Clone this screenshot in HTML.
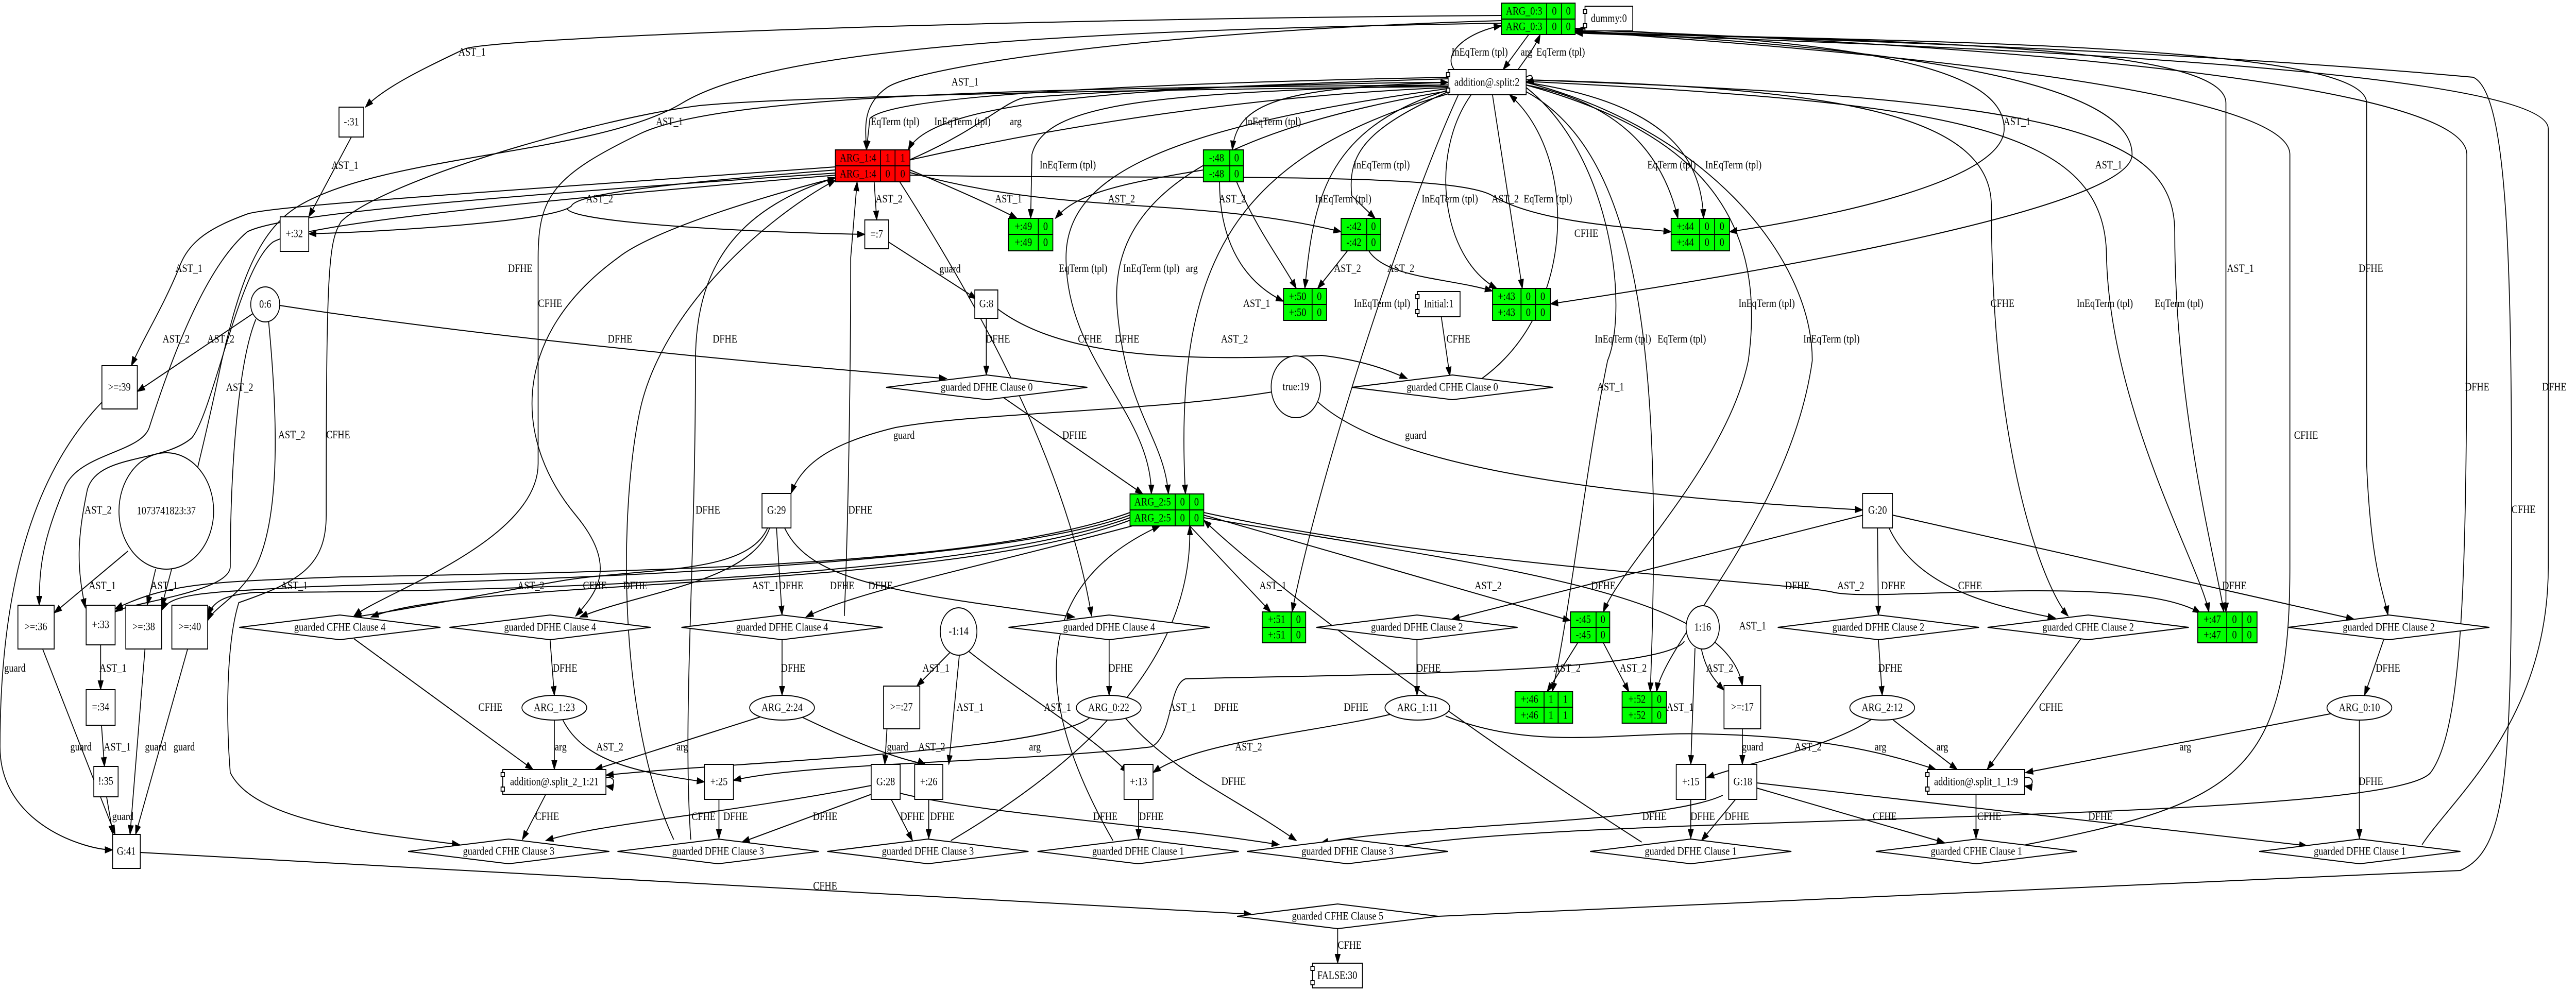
<!DOCTYPE html>
<html><head><meta charset="utf-8">
<style>
html,body{margin:0;padding:0;background:#fff;overflow:hidden;width:100%;height:100%;}
svg{display:block;width:100vw;height:100vh;}
text{font-family:"Liberation Serif",serif;font-size:22px;fill:#000;}
.n{fill:#fff;stroke:#000;stroke-width:2;}
.e{fill:none;stroke:#000;stroke-width:2;}
.g{fill:#00ff00;stroke:#000;stroke-width:2;}
.r{fill:#ff0000;stroke:#000;stroke-width:2;}
</style></head><body>
<svg viewBox="0 0 6041 1924" preserveAspectRatio="none" xmlns="http://www.w3.org/2000/svg">
<defs><marker id="a" markerWidth="20" markerHeight="14" refX="18" refY="7" orient="auto" markerUnits="userSpaceOnUse"><path d="M0,0 L20,7 L0,14 z" fill="#000"/></marker></defs>

<g class="e" marker-end="url(#a)">
<path d="M3521,30 C2200,38 1150,75 1090,95 C1000,130 900,170 857,208"/>
<path d="M824,266 L724,421"/>
<path d="M3521,40 C2700,60 2150,130 2080,170 C2020,205 2030,250 2032,291"/>
<path d="M3521,45 C2400,60 1800,100 1600,200 C1400,300 900,300 700,400 C600,450 560,560 520,700 C470,900 420,1050 379,1178"/>
<path d="M1959,324 C1200,370 620,400 578,416 C500,440 443,465 420,520 C380,600 340,650 308,710"/>
<path d="M1959,330 C1500,360 1350,380 1340,400 C1300,430 900,450 724,454"/>
<path d="M1330,405 C1340,430 1700,450 2028,455"/>
<path d="M1959,336 C1000,390 650,420 580,450 C480,520 400,700 350,830 C330,880 180,880 150,950 C100,1050 92,1100 92,1175"/>
<path d="M1959,340 C1100,400 700,440 640,470 C560,520 500,800 450,850 C380,900 230,880 205,950 C180,1050 180,1100 200,1180"/>
<path d="M3396,150 C2800,160 2100,180 2040,230 L2032,291"/>
<path d="M3396,153 C2700,170 2190,190 2130,291"/>
<path d="M2134,310 C2300,250 2350,200 2400,190 C2700,170 3200,160 3396,160"/>
<path d="M3396,165 C2700,180 2450,200 2420,300 L2417,424"/>
<path d="M3396,160 C3000,170 2900,200 2890,291"/>
<path d="M2822,330 C2600,360 2520,380 2475,424"/>
<path d="M2134,330 C2250,370 2330,400 2385,424"/>
<path d="M2050,353 L2056,427"/>
<path d="M2134,335 C2500,420 2800,380 3145,450"/>
<path d="M2134,340 C2700,350 3400,330 3500,380 C3600,430 3800,440 3919,450"/>
<path d="M2860,353 C2860,450 2900,540 3010,585"/>
<path d="M2900,353 C2950,450 3000,500 3040,560"/>
<path d="M3160,487 L3090,560"/>
<path d="M3210,487 C3250,540 3400,540 3500,565"/>
<path d="M3396,178 C3200,250 3160,300 3170,380 L3225,424"/>
<path d="M3450,184 C3350,300 3380,500 3510,560"/>
<path d="M3500,184 L3570,560"/>
<path d="M3579,165 C3800,200 3900,300 3935,424"/>
<path d="M3579,160 C3900,200 3990,300 3995,424"/>
<path d="M3396,175 C3100,250 3080,400 3060,560"/>
<path d="M3410,135 C3380,100 3450,60 3521,50"/>
<path d="M3585,67 L3525,135"/>
<path d="M3560,135 C3590,100 3600,90 3612,67"/>
<path d="M3694,55 C4300,80 4700,120 4700,250 C4700,350 4300,420 4056,450"/>
<path d="M3694,60 C4400,90 5000,150 5000,300 C5000,400 4200,520 3636,590"/>
<path d="M3694,62 C4500,80 5220,90 5220,200 L5220,1188"/>
<path d="M3694,64 C4600,80 5550,90 5550,200 L5550,900 C5560,1100 5590,1150 5600,1194"/>
<path d="M3420,184 C3300,400 3100,900 3030,1188"/>
<path d="M3579,170 C3780,300 3820,600 3770,700 C3720,900 3680,1200 3640,1343"/>
<path d="M3579,178 C3850,300 3900,700 3870,1343"/>
<path d="M3579,165 C3950,250 4150,400 4100,700 C4050,900 3800,1100 3760,1188"/>
<path d="M3579,160 C4000,250 4250,500 4250,700 C4200,1000 3900,1250 3885,1343"/>
<path d="M3579,158 C4600,200 4940,250 4940,500 C4950,800 5160,1100 5180,1188"/>
<path d="M3579,155 C4800,190 5100,250 5100,450 C5100,800 5200,1100 5215,1188"/>
<path d="M3579,155 C4300,170 4670,220 4670,400 C4670,900 4800,1150 4850,1196"/>
<path d="M3396,168 C2000,180 1700,200 1640,205 C1400,230 900,350 800,430 C770,470 765,520 765,1000 C765,1100 700,1130 560,1170 C530,1250 530,1400 540,1500 C600,1600 900,1620 1078,1640"/>
<path d="M3396,165 C2500,170 1700,180 1500,260 C1300,340 1262,380 1262,500 L1262,900 C1262,1050 900,1150 830,1196"/>
<path d="M3396,170 C2500,200 1600,400 1450,500 C1200,650 1200,850 1350,1000 C1450,1100 1400,1150 1350,1196"/>
<path d="M3396,172 C2700,250 2500,350 2500,500 C2500,700 2700,800 2700,959"/>
<path d="M3400,176 C2800,260 2600,400 2620,600 C2640,800 2730,850 2740,959"/>
<path d="M3405,180 C2900,300 2750,500 2780,959"/>
<path d="M2110,353 C2300,600 2500,900 2560,1196"/>
<path d="M2084,470 L2290,580"/>
<path d="M2313,618 L2313,728"/>
<path d="M656,593 C1100,650 1700,700 2220,735"/>
<path d="M600,605 L322,760"/>
<path d="M630,625 C650,800 660,1000 600,1100 C560,1160 500,1180 487,1205"/>
<path d="M600,620 C560,700 540,900 540,1100 C540,1150 300,1170 270,1188"/>
<path d="M2350,770 L2680,959"/>
<path d="M2340,600 C2500,700 2800,700 3100,690 C3200,700 3260,720 3300,735"/>
<path d="M3380,615 L3400,730"/>
<path d="M3475,735 C3700,600 3700,300 3540,184"/>
<path d="M2990,760 C2700,800 2300,800 2100,830 C1950,860 1880,900 1855,958"/>
<path d="M3090,780 C3250,900 3700,960 4368,990"/>
<path d="M1620,1630 C1600,1400 1631,1100 1631,700 C1631,500 1750,400 1959,345"/>
<path d="M1980,1196 C1990,1000 1995,700 1995,500 L2010,353"/>
<path d="M1580,1630 C1450,1400 1450,1000 1500,800 C1550,600 1800,420 1959,350"/>
<path d="M300,1070 L127,1190"/>
<path d="M365,1105 L345,1175"/>
<path d="M240,780 C100,900 0,1100 0,1450 C0,1600 200,1650 264,1650"/>
<path d="M100,1260 L270,1620"/>
<path d="M236,1252 L236,1339"/>
<path d="M238,1408 L245,1488"/>
<path d="M250,1547 L265,1620"/>
<path d="M340,1260 L305,1620"/>
<path d="M440,1260 L318,1620"/>
<path d="M329,1655 L2935,1775"/>
<path d="M3137,1803 L3137,1870"/>
<path d="M1800,1025 C1750,1120 1500,1100 1300,1130 C1100,1160 900,1190 830,1198"/>
<path d="M1805,1025 C1760,1130 1500,1150 1360,1198"/>
<path d="M1821,1025 L1834,1194"/>
<path d="M1840,1025 C1900,1130 2100,1150 2520,1198"/>
<path d="M1290,1242 L1300,1350"/>
<path d="M1834,1242 L1834,1350"/>
<path d="M2601,1242 L2601,1350"/>
<path d="M830,1240 L1250,1494"/>
<path d="M1300,1398 L1300,1494"/>
<path d="M1320,1398 C1370,1480 1500,1500 1652,1518"/>
<path d="M1790,1390 L1395,1494"/>
<path d="M1870,1388 C2100,1480 2160,1480 2170,1484"/>
<path d="M2560,1390 C2480,1460 1700,1480 1421,1505"/>
<path d="M2230,1265 L2150,1332"/>
<path d="M2250,1270 L2225,1484"/>
<path d="M2265,1260 C2400,1350 2550,1420 2645,1500"/>
<path d="M2080,1415 L2075,1484"/>
<path d="M3270,1385 C3100,1420 2800,1440 2704,1500"/>
<path d="M2640,1395 C2750,1500 2900,1550 3040,1632"/>
<path d="M2043,1525 C1700,1580 1400,1600 1280,1632"/>
<path d="M2050,1540 L1740,1635"/>
<path d="M2090,1552 L2140,1632"/>
<path d="M2111,1540 C2300,1580 2700,1600 3000,1640"/>
<path d="M2178,1552 L2178,1628"/>
<path d="M1686,1552 L1686,1628"/>
<path d="M2670,1552 L2670,1628"/>
<path d="M1280,1542 L1225,1630"/>
<path d="M2230,1632 C2500,1500 2800,1300 2790,1021"/>
<path d="M2610,1632 C2450,1400 2380,1150 2720,1021"/>
<path d="M1421,1510 C1445,1505 1445,1530 1421,1526"/>
<path d="M2790,1021 L2980,1188"/>
<path d="M2823,1000 L3683,1205"/>
<path d="M2823,1005 C3500,1100 4050,1150 4086,1331"/>
<path d="M2823,995 C3400,1100 4200,1130 4300,1150 C4400,1170 5000,1110 5160,1190"/>
<path d="M2650,995 C2300,1100 1500,1110 800,1120 C500,1130 400,1130 270,1182"/>
<path d="M2650,1000 C2300,1110 1000,1130 700,1140 C500,1150 400,1150 379,1185"/>
<path d="M2650,1005 C2200,1140 900,1150 600,1150 C520,1155 500,1170 487,1195"/>
<path d="M2650,1010 C2200,1150 1100,1120 870,1198"/>
<path d="M2660,1020 C2300,1100 2000,1150 1890,1198"/>
<path d="M3290,1643 C3700,1580 5600,1600 5700,1500 C5790,1400 5785,1000 5785,300 C5785,150 4500,80 3694,58"/>
<path d="M3850,1635 C3500,1450 3000,1150 2823,1010"/>
<path d="M4750,1640 C5250,1560 5370,1500 5370,1100 L5370,300 C5370,150 4000,80 3694,60"/>
<path d="M5680,1640 C5750,1550 5976,1400 5976,1100 L5976,250 C5976,120 4200,80 3694,64"/>
<path d="M3372,1779 C4500,1740 5500,1700 5770,1690 C5880,1650 5890,1500 5890,990 C5890,500 5880,180 5800,150 C5000,90 4000,70 3694,62"/>
<path d="M4040,1544 C3900,1600 3300,1600 3097,1637"/>
<path d="M4070,1552 L3990,1632"/>
<path d="M3965,1552 L3965,1628"/>
<path d="M4120,1530 L4560,1636"/>
<path d="M4120,1520 L5410,1642"/>
<path d="M4634,1542 L4634,1628"/>
<path d="M5533,1398 L5533,1628"/>
<path d="M5470,1385 L4750,1500"/>
<path d="M4440,1398 L4590,1494"/>
<path d="M3390,1390 C3600,1460 3800,1420 4000,1425 C4300,1430 4450,1470 4540,1494"/>
<path d="M4395,1393 C4300,1450 4100,1480 4002,1510"/>
<path d="M4086,1415 L4086,1484"/>
<path d="M3975,1258 L3965,1484"/>
<path d="M3990,1260 C4000,1300 4020,1320 4043,1340"/>
<path d="M3950,1245 C3900,1310 3100,1310 2780,1318 C2740,1330 2750,1430 2700,1450 C2400,1480 1900,1480 1720,1515"/>
<path d="M3323,1242 L3323,1350"/>
<path d="M4405,1242 L4414,1350"/>
<path d="M5590,1242 L5545,1350"/>
<path d="M4880,1240 L4660,1494"/>
<path d="M4370,1000 L3405,1202"/>
<path d="M4403,1025 L4405,1194"/>
<path d="M4430,1025 C4500,1150 4700,1180 4820,1200"/>
<path d="M4438,1000 L5520,1202"/>
<path d="M3700,1248 L3628,1343"/>
<path d="M3760,1248 L3820,1343"/>
<path d="M4748,1510 C4772,1505 4772,1530 4748,1526"/>
<path d="M3579,150 C3595,140 3600,155 3579,160"/>
</g>

<g text-anchor="middle">
<text x="1107" y="108">AST_1</text><text x="809" y="328">AST_1</text><text x="2263" y="166">AST_1</text>
<text x="1570" y="243">AST_1</text><text x="443" y="528">AST_1</text><text x="1406" y="393">AST_2</text>
<text x="2099" y="243">EqTerm (tpl)</text><text x="2257" y="243">InEqTerm (tpl)</text><text x="2382" y="243">arg</text>
<text x="2504" y="327">InEqTerm (tpl)</text><text x="2985" y="243">InEqTerm (tpl)</text>
<text x="2630" y="393">AST_2</text><text x="2365" y="393">AST_1</text><text x="2085" y="393">AST_2</text>
<text x="2890" y="393">AST_2</text><text x="2947" y="596">AST_1</text>
<text x="3160" y="528">AST_2</text><text x="3285" y="528">AST_2</text>
<text x="3240" y="327">InEqTerm (tpl)</text><text x="3150" y="393">InEqTerm (tpl)</text>
<text x="3400" y="393">InEqTerm (tpl)</text><text x="3530" y="393">AST_2</text><text x="3630" y="393">EqTerm (tpl)</text>
<text x="3920" y="327">EqTerm (tpl)</text><text x="4065" y="327">InEqTerm (tpl)</text>
<text x="3470" y="108">InEqTerm (tpl)</text><text x="3580" y="108">arg</text><text x="3660" y="108">EqTerm (tpl)</text>
<text x="4730" y="243">AST_1</text><text x="4945" y="327">AST_1</text><text x="5254" y="528">AST_1</text><text x="5560" y="528">DFHE</text>
<text x="5809" y="758">DFHE</text><text x="5990" y="758">DFHE</text><text x="5408" y="852">CFHE</text><text x="5918" y="996">CFHE</text>
<text x="3241" y="596">InEqTerm (tpl)</text><text x="3720" y="460">CFHE</text>
<text x="3806" y="665">InEqTerm (tpl)</text><text x="3944" y="665">EqTerm (tpl)</text>
<text x="4143" y="596">InEqTerm (tpl)</text><text x="4295" y="665">InEqTerm (tpl)</text>
<text x="3777" y="758">AST_1</text>
<text x="4696" y="596">CFHE</text><text x="4936" y="596">InEqTerm (tpl)</text><text x="5110" y="596">EqTerm (tpl)</text>
<text x="2540" y="528">EqTerm (tpl)</text><text x="2700" y="528">InEqTerm (tpl)</text><text x="2795" y="528">arg</text>
<text x="1220" y="528">DFHE</text><text x="1290" y="596">CFHE</text><text x="1454" y="665">DFHE</text><text x="1700" y="665">DFHE</text>
<text x="2228" y="529">guard</text><text x="2340" y="665">DFHE</text><text x="2556" y="665">CFHE</text><text x="2643" y="665">DFHE</text>
<text x="2895" y="665">AST_2</text><text x="3420" y="665">CFHE</text>
<text x="413" y="665">AST_2</text><text x="518" y="665">AST_2</text><text x="562" y="759">AST_2</text>
<text x="684" y="851">AST_2</text><text x="793" y="851">CFHE</text><text x="2120" y="852">guard</text><text x="2520" y="852">DFHE</text><text x="3320" y="852">guard</text>
<text x="230" y="997">AST_2</text><text x="1660" y="997">DFHE</text><text x="2018" y="997">DFHE</text>
<text x="240" y="1144">AST_1</text><text x="385" y="1144">AST_1</text><text x="690" y="1144">AST_1</text>
<text x="1245" y="1144">AST_2</text><text x="1395" y="1144">CFHE</text><text x="1490" y="1144">DFHE</text>
<text x="1795" y="1144">AST_1</text><text x="1855" y="1144">DFHE</text><text x="1975" y="1144">DFHE</text><text x="2065" y="1144">DFHE</text>
<text x="2985" y="1144">AST_1</text><text x="3490" y="1144">AST_2</text><text x="3760" y="1144">DFHE</text><text x="4215" y="1144">DFHE</text>
<text x="4340" y="1144">AST_2</text><text x="4440" y="1144">DFHE</text><text x="4620" y="1144">CFHE</text><text x="5240" y="1144">DFHE</text>
<text x="4110" y="1222">AST_1</text><text x="35" y="1304">guard</text><text x="265" y="1304">AST_1</text>
<text x="1325" y="1304">DFHE</text><text x="1860" y="1304">DFHE</text><text x="2195" y="1304">AST_1</text><text x="2628" y="1304">DFHE</text>
<text x="3350" y="1304">DFHE</text><text x="3675" y="1304">AST_2</text><text x="3830" y="1304">AST_2</text><text x="4033" y="1304">AST_2</text>
<text x="4433" y="1304">DFHE</text><text x="5600" y="1304">DFHE</text>
<text x="1150" y="1380">CFHE</text><text x="2275" y="1380">AST_1</text><text x="2480" y="1380">AST_1</text><text x="2773" y="1380">AST_1</text>
<text x="2876" y="1380">DFHE</text><text x="3180" y="1380">DFHE</text><text x="3940" y="1380">AST_1</text><text x="4810" y="1380">CFHE</text>
<text x="190" y="1457">guard</text><text x="275" y="1457">AST_1</text><text x="365" y="1457">guard</text><text x="432" y="1457">guard</text>
<text x="1315" y="1457">arg</text><text x="1430" y="1457">AST_2</text><text x="1600" y="1457">arg</text>
<text x="2105" y="1457">guard</text><text x="2185" y="1457">AST_2</text><text x="2427" y="1457">arg</text><text x="2928" y="1457">AST_2</text>
<text x="4110" y="1457">guard</text><text x="4240" y="1457">AST_2</text><text x="4410" y="1457">arg</text><text x="4555" y="1457">arg</text><text x="5125" y="1457">arg</text>
<text x="2893" y="1524">DFHE</text><text x="5560" y="1524">DFHE</text>
<text x="288" y="1592">guard</text><text x="1283" y="1592">CFHE</text><text x="1650" y="1592">CFHE</text><text x="1725" y="1592">DFHE</text>
<text x="1935" y="1592">DFHE</text><text x="2140" y="1592">DFHE</text><text x="2210" y="1592">DFHE</text>
<text x="2592" y="1592">DFHE</text><text x="2700" y="1592">DFHE</text>
<text x="3880" y="1592">DFHE</text><text x="3993" y="1592">DFHE</text><text x="4073" y="1592">DFHE</text>
<text x="4420" y="1592">CFHE</text><text x="4665" y="1592">CFHE</text><text x="4926" y="1592">DFHE</text>
<text x="1935" y="1727">CFHE</text><text x="3165" y="1842">CFHE</text>
</g>

<g>
<rect class="n" x="795" y="208" width="58" height="58"/>
<rect class="n" x="657" y="421" width="67" height="67"/>
<rect class="n" x="2028" y="427" width="56" height="56"/>
<rect class="n" x="2286" y="563" width="54" height="55"/>
<rect class="n" x="239" y="710" width="83" height="84"/>
<rect class="n" x="1787" y="958" width="68" height="67"/>
<rect class="n" x="4368" y="958" width="70" height="67"/>
<rect class="n" x="42" y="1175" width="85" height="85"/>
<rect class="n" x="202" y="1175" width="68" height="77"/>
<rect class="n" x="295" y="1175" width="84" height="85"/>
<rect class="n" x="403" y="1175" width="84" height="85"/>
<rect class="n" x="202" y="1339" width="68" height="69"/>
<rect class="n" x="2072" y="1332" width="85" height="83"/>
<rect class="n" x="4043" y="1331" width="86" height="84"/>
<rect class="n" x="1652" y="1484" width="68" height="68"/>
<rect class="n" x="2043" y="1484" width="68" height="68"/>
<rect class="n" x="2145" y="1484" width="66" height="68"/>
<rect class="n" x="2636" y="1484" width="68" height="68"/>
<rect class="n" x="3931" y="1484" width="69" height="68"/>
<rect class="n" x="4054" y="1484" width="66" height="68"/>
<rect class="n" x="220" y="1488" width="57" height="59"/>
<rect class="n" x="264" y="1620" width="65" height="66"/>
<rect class="n" x="3396" y="135" width="183" height="49"/>
<rect class="n" x="3717" y="12" width="112" height="48"/>
<rect class="n" x="3324" y="566" width="100" height="49"/>
<rect class="n" x="1179" y="1494" width="242" height="48"/>
<rect class="n" x="4520" y="1494" width="228" height="48"/>
<rect class="n" x="3078" y="1870" width="117" height="48"/>
<g class="n">
<rect x="3392" y="141" width="8" height="8"/><rect x="3392" y="171" width="8" height="8"/>
<rect x="3713" y="18" width="8" height="8"/><rect x="3713" y="46" width="8" height="8"/>
<rect x="3320" y="572" width="8" height="8"/><rect x="3320" y="601" width="8" height="8"/>
<rect x="1175" y="1500" width="8" height="8"/><rect x="1175" y="1528" width="8" height="8"/>
<rect x="4516" y="1500" width="8" height="8"/><rect x="4516" y="1528" width="8" height="8"/>
<rect x="3074" y="1876" width="8" height="8"/><rect x="3074" y="1904" width="8" height="8"/>
</g>
<ellipse class="n" cx="622" cy="591" rx="34" ry="34"/>
<ellipse class="n" cx="3039" cy="751" rx="58" ry="60"/>
<ellipse class="n" cx="390" cy="992" rx="111" ry="113"/>
<ellipse class="n" cx="2248" cy="1226" rx="43" ry="46"/>
<ellipse class="n" cx="3993" cy="1218" rx="39" ry="42"/>
<ellipse class="n" cx="1300" cy="1374" rx="76" ry="24"/>
<ellipse class="n" cx="1834" cy="1374" rx="76" ry="24"/>
<ellipse class="n" cx="2600" cy="1374" rx="76" ry="24"/>
<ellipse class="n" cx="3324" cy="1374" rx="76" ry="24"/>
<ellipse class="n" cx="4414" cy="1374" rx="76" ry="24"/>
<ellipse class="n" cx="5533" cy="1374" rx="76" ry="24"/>
<g class="n">
<polygon points="2078,752 2314,728 2550,752 2314,776"/>
<polygon points="3170,752 3406,728 3642,752 3406,776"/>
<polygon points="561,1218 797,1194 1033,1218 797,1242"/>
<polygon points="1054,1218 1290,1194 1526,1218 1290,1242"/>
<polygon points="1598,1218 1834,1194 2070,1218 1834,1242"/>
<polygon points="2365,1218 2601,1194 2837,1218 2601,1242"/>
<polygon points="3087,1218 3323,1194 3559,1218 3323,1242"/>
<polygon points="4169,1218 4405,1194 4641,1218 4405,1242"/>
<polygon points="4661,1218 4897,1194 5133,1218 4897,1242"/>
<polygon points="5366,1218 5602,1194 5838,1218 5602,1242"/>
<polygon points="957,1653 1193,1629 1429,1653 1193,1677"/>
<polygon points="1448,1653 1684,1629 1920,1653 1684,1677"/>
<polygon points="1940,1653 2176,1629 2412,1653 2176,1677"/>
<polygon points="2433,1653 2669,1629 2905,1653 2669,1677"/>
<polygon points="2924,1653 3160,1629 3396,1653 3160,1677"/>
<polygon points="3729,1653 3965,1629 4201,1653 3965,1677"/>
<polygon points="4399,1653 4635,1629 4871,1653 4635,1677"/>
<polygon points="5298,1653 5534,1629 5770,1653 5534,1677"/>
<polygon points="2901,1779 3137,1755 3373,1779 3137,1803"/>
</g>
<g>
<rect class="g" x="3521" y="6" width="173" height="61"/><path class="e" d="M3521,37 H3694 M3627,6 V67 M3662,6 V67"/>
<rect class="r" x="1959" y="291" width="175" height="62"/><path class="e" d="M1959,322 H2134 M2065,291 V353 M2099,291 V353"/>
<rect class="g" x="2822" y="291" width="94" height="62"/><path class="e" d="M2822,322 H2916 M2884,291 V353"/>
<rect class="g" x="2365" y="424" width="104" height="63"/><path class="e" d="M2365,455 H2469 M2435,424 V487"/>
<rect class="g" x="3145" y="424" width="93" height="63"/><path class="e" d="M3145,455 H3238 M3205,424 V487"/>
<rect class="g" x="3919" y="424" width="137" height="63"/><path class="e" d="M3919,455 H4056 M3986,424 V487 M4021,424 V487"/>
<rect class="g" x="3010" y="560" width="101" height="62"/><path class="e" d="M3010,591 H3111 M3077,560 V622"/>
<rect class="g" x="3500" y="560" width="136" height="62"/><path class="e" d="M3500,591 H3636 M3567,560 V622 M3601,560 V622"/>
<rect class="g" x="2650" y="959" width="173" height="62"/><path class="e" d="M2650,990 H2823 M2756,959 V1021 M2790,959 V1021"/>
<rect class="g" x="2960" y="1188" width="102" height="60"/><path class="e" d="M2960,1218 H3062 M3028,1188 V1248"/>
<rect class="g" x="3683" y="1188" width="92" height="60"/><path class="e" d="M3683,1218 H3775 M3743,1188 V1248"/>
<rect class="g" x="5154" y="1188" width="139" height="60"/><path class="e" d="M5154,1218 H5293 M5222,1188 V1248 M5258,1188 V1248"/>
<rect class="g" x="3553" y="1343" width="135" height="61"/><path class="e" d="M3553,1373 H3688 M3621,1343 V1404 M3654,1343 V1404"/>
<rect class="g" x="3804" y="1343" width="104" height="61"/><path class="e" d="M3804,1373 H3908 M3874,1343 V1404"/>
</g>
</g>

<g text-anchor="middle" dominant-baseline="central">
<text x="824" y="237">-:31</text><text x="690" y="454">+:32</text><text x="2056" y="455">=:7</text><text x="2313" y="590">G:8</text>
<text x="280" y="752">&gt;=:39</text><text x="1821" y="991">G:29</text><text x="4403" y="991">G:20</text>
<text x="84" y="1217">&gt;=:36</text><text x="236" y="1213">+:33</text><text x="337" y="1217">&gt;=:38</text><text x="445" y="1217">&gt;=:40</text>
<text x="236" y="1373">=:34</text><text x="2114" y="1373">&gt;=:27</text><text x="4086" y="1373">&gt;=:17</text>
<text x="1686" y="1518">+:25</text><text x="2077" y="1518">G:28</text><text x="2178" y="1518">+:26</text><text x="2670" y="1518">+:13</text>
<text x="3965" y="1518">+:15</text><text x="4087" y="1518">G:18</text><text x="248" y="1517">!:35</text><text x="296" y="1653">G:41</text>
<text x="3487" y="160">addition@.split:2</text><text x="3773" y="36">dummy:0</text><text x="3374" y="590">Initial:1</text>
<text x="1300" y="1518">addition@.split_2_1:21</text><text x="4634" y="1518">addition@.split_1_1:9</text><text x="3136" y="1894">FALSE:30</text>
<text x="622" y="591">0:6</text><text x="3039" y="751">true:19</text><text x="390" y="992">1073741823:37</text>
<text x="2248" y="1226">-1:14</text><text x="3993" y="1218">1:16</text>
<text x="1300" y="1374">ARG_1:23</text><text x="1834" y="1374">ARG_2:24</text><text x="2600" y="1374">ARG_0:22</text>
<text x="3324" y="1374">ARG_1:11</text><text x="4414" y="1374">ARG_2:12</text><text x="5533" y="1374">ARG_0:10</text>
<text x="2314" y="752">guarded DFHE Clause 0</text><text x="3406" y="752">guarded CFHE Clause 0</text>
<text x="797" y="1218">guarded CFHE Clause 4</text><text x="1290" y="1218">guarded DFHE Clause 4</text>
<text x="1834" y="1218">guarded DFHE Clause 4</text><text x="2601" y="1218">guarded DFHE Clause 4</text>
<text x="3323" y="1218">guarded DFHE Clause 2</text><text x="4405" y="1218">guarded DFHE Clause 2</text>
<text x="4897" y="1218">guarded CFHE Clause 2</text><text x="5602" y="1218">guarded DFHE Clause 2</text>
<text x="1193" y="1653">guarded CFHE Clause 3</text><text x="1684" y="1653">guarded DFHE Clause 3</text>
<text x="2176" y="1653">guarded DFHE Clause 3</text><text x="2669" y="1653">guarded DFHE Clause 1</text>
<text x="3160" y="1653">guarded DFHE Clause 3</text><text x="3965" y="1653">guarded DFHE Clause 1</text>
<text x="4635" y="1653">guarded CFHE Clause 1</text><text x="5534" y="1653">guarded DFHE Clause 1</text>
<text x="3137" y="1779">guarded CFHE Clause 5</text>
<text x="3574" y="22">ARG_0:3</text><text x="3645" y="22">0</text><text x="3678" y="22">0</text>
<text x="3574" y="52">ARG_0:3</text><text x="3645" y="52">0</text><text x="3678" y="52">0</text>
<text x="2012" y="307">ARG_1:4</text><text x="2082" y="307">1</text><text x="2117" y="307">1</text>
<text x="2012" y="338">ARG_1:4</text><text x="2082" y="338">0</text><text x="2117" y="338">0</text>
<text x="2853" y="307">-:48</text><text x="2900" y="307">0</text><text x="2853" y="338">-:48</text><text x="2900" y="338">0</text>
<text x="2400" y="440">+:49</text><text x="2452" y="440">0</text><text x="2400" y="471">+:49</text><text x="2452" y="471">0</text>
<text x="3175" y="440">-:42</text><text x="3221" y="440">0</text><text x="3175" y="471">-:42</text><text x="3221" y="471">0</text>
<text x="3952" y="440">+:44</text><text x="4003" y="440">0</text><text x="4038" y="440">0</text>
<text x="3952" y="471">+:44</text><text x="4003" y="471">0</text><text x="4038" y="471">0</text>
<text x="3043" y="576">+:50</text><text x="3094" y="576">0</text><text x="3043" y="607">+:50</text><text x="3094" y="607">0</text>
<text x="3533" y="576">+:43</text><text x="3584" y="576">0</text><text x="3618" y="576">0</text>
<text x="3533" y="607">+:43</text><text x="3584" y="607">0</text><text x="3618" y="607">0</text>
<text x="2703" y="975">ARG_2:5</text><text x="2773" y="975">0</text><text x="2806" y="975">0</text>
<text x="2703" y="1006">ARG_2:5</text><text x="2773" y="1006">0</text><text x="2806" y="1006">0</text>
<text x="2994" y="1203">+:51</text><text x="3045" y="1203">0</text><text x="2994" y="1233">+:51</text><text x="3045" y="1233">0</text>
<text x="3713" y="1203">-:45</text><text x="3759" y="1203">0</text><text x="3713" y="1233">-:45</text><text x="3759" y="1233">0</text>
<text x="5188" y="1203">+:47</text><text x="5240" y="1203">0</text><text x="5275" y="1203">0</text>
<text x="5188" y="1233">+:47</text><text x="5240" y="1233">0</text><text x="5275" y="1233">0</text>
<text x="3587" y="1358">+:46</text><text x="3637" y="1358">1</text><text x="3671" y="1358">1</text>
<text x="3587" y="1389">+:46</text><text x="3637" y="1389">1</text><text x="3671" y="1389">1</text>
<text x="3839" y="1358">+:52</text><text x="3891" y="1358">0</text><text x="3839" y="1389">+:52</text><text x="3891" y="1389">0</text>
</g>
</svg>
</body></html>
